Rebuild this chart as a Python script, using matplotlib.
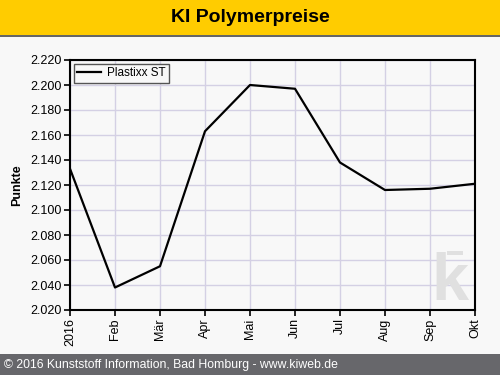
import matplotlib
matplotlib.use("Agg")
import matplotlib.pyplot as plt
from matplotlib.patches import Rectangle

months = ["2016", "Feb", "Mär", "Apr", "Mai", "Jun", "Jul", "Aug", "Sep", "Okt"]
plastixx_st = [2.133, 2.038, 2.055, 2.163, 2.200, 2.197, 2.138, 2.116, 2.117, 2.121]
y_ticks = [2.020, 2.040, 2.060, 2.080, 2.100, 2.120, 2.140, 2.160, 2.180, 2.200, 2.220]

W, H = 500, 375
fig = plt.figure(figsize=(5, 3.75), dpi=100, facecolor="#f8f8f8")

# title bar
fig.patches.append(Rectangle((0, 1 - 35 / H), 1, 35 / H, transform=fig.transFigure,
                             facecolor="#ffcc00", edgecolor="none", zorder=0))
fig.patches.append(Rectangle((0, 1 - 37 / H), 1, 2 / H, transform=fig.transFigure,
                             facecolor="#666666", edgecolor="none", zorder=0))
fig.text(0.5, 1 - 18 / H, "KI Polymerpreise", ha="center", va="center",
         fontsize=14, fontweight="bold", family="Liberation Sans")

# footer
fig.patches.append(Rectangle((0, 0), 1, 21 / H, transform=fig.transFigure,
                             facecolor="#67676b", edgecolor="none", zorder=0))
fig.text(4 / W, 10 / H, "© 2016 Kunststoff Information, Bad Homburg - www.kiweb.de",
         ha="left", va="center", fontsize=8.8, color="white", family="Liberation Sans")

ax = fig.add_axes([70 / W, 1 - 310 / H, 405 / W, 250 / H], facecolor="#f8f8f8")
x = list(range(len(months)))

# watermark
ax.text(0.938, 0.04, "k", transform=ax.transAxes, ha="center", va="baseline",
        fontsize=48, fontweight="bold", color="#e0e0e0", family="Liberation Sans", zorder=1)
ax.add_patch(Rectangle((0.931, 0.22), 0.04, 0.018, transform=ax.transAxes,
                       facecolor="#e0e0e0", edgecolor="none", zorder=1))

ax.plot(x, plastixx_st, color="black", linewidth=1.6, label="Plastixx ST", zorder=3)

ax.set_xlim(0, len(months) - 1)
ax.set_ylim(2.020, 2.220)
ax.set_xticks(x)
ax.set_xticklabels(months, rotation=90, fontsize=9, family="Liberation Sans")
ax.set_yticks(y_ticks)
ax.set_yticklabels([f"{v:.3f}" for v in y_ticks], fontsize=9, family="Liberation Sans")
ax.grid(True, color="#d4d0e4", linewidth=1)
ax.set_axisbelow(True)
for s in ax.spines.values():
    s.set_linewidth(1.5)
    s.set_color("black")
ax.tick_params(length=4, width=1.2, pad=2)
ax.set_ylabel("Punkte", fontsize=9, fontweight="bold", family="Liberation Sans", labelpad=5)

leg = ax.legend(loc="upper left", frameon=True, fancybox=False,
                borderaxespad=0.3, handlelength=2.0, handletextpad=0.5, borderpad=0.3,
                prop={"family": "Liberation Sans", "size": 8.5})
leg.get_frame().set_edgecolor("#555555")
leg.get_frame().set_linewidth(1)
leg.get_frame().set_facecolor("#f8f8f8")
leg.get_frame().set_alpha(1)

fig.savefig("out.png", dpi=100, facecolor=fig.get_facecolor())
